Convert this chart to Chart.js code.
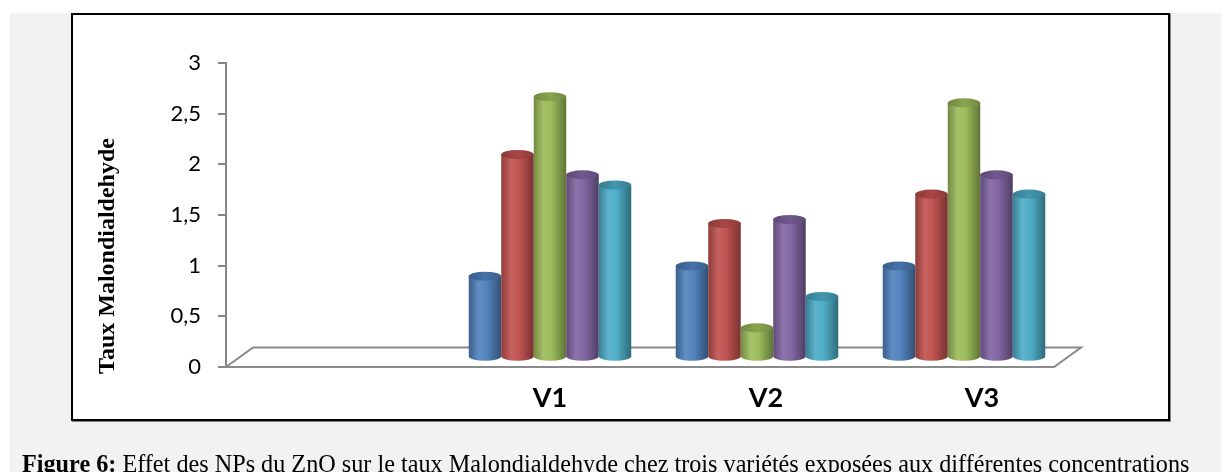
<!DOCTYPE html>
<html>
<head>
<meta charset="utf-8">
<script src="https://cdn.jsdelivr.net/npm/chart.js@4.4.1/dist/chart.umd.min.js"></script>
<style>
  html, body { margin:0; padding:0; background:#ffffff; width:1221px; height:472px; overflow:hidden; }
  #gray { position:absolute; left:10px; top:13px; width:1211px; height:459px; background:#f2f2f2; }
  #box { position:absolute; left:71px; top:13px; width:1095px; height:404px; background:#ffffff;
         border:2px solid #000; box-shadow:1px 1px 0 #808080; }
  #cv { position:absolute; left:0; top:0; }
  #caption { position:absolute; left:22px; top:455px; white-space:nowrap; font-family:"Liberation Serif","Times New Roman",serif;
             font-size:19px; line-height:19px; color:#000; }
</style>
</head>
<body>
<div id="gray"></div>
<div id="box"></div>
<canvas id="cv" width="1221" height="472"></canvas>
<div id="caption"><b>Figure 6:</b> Effet des NPs du ZnO sur le taux Malondialdehyde chez trois variétés exposées aux différentes concentrations</div>
<script>
// ---- data ----
const categories = ['', 'V1', 'V2', 'V3'];
const serie1 = [null, 0.80, 0.90, 0.90];
const serie2 = [null, 2.00, 1.32, 1.61];
const serie3 = [null, 2.57, 0.29, 2.51];
const serie4 = [null, 1.80, 1.36, 1.80];
const serie5 = [null, 1.70, 0.60, 1.61];
const seriesNames = ['Série 1', 'Série 2', 'Série 3', 'Série 4', 'Série 5'];
const seriesColors = ['#4F81BD', '#C0504D', '#9BBB59', '#8064A2', '#4BACC6'];
const yTicks = [0, 0.5, 1, 1.5, 2, 2.5, 3];
const yTitle = 'Taux Malondialdehyde';

// fit caption width
(function(){
  const cap = document.getElementById('caption');
  const target = 1168;
  const w = cap.getBoundingClientRect().width;
  const fs = 19 * target / w;
  cap.style.fontSize = fs.toFixed(2) + 'px';
  cap.style.lineHeight = fs.toFixed(2) + 'px';
  cap.style.top = (472 - fs * 0.84) + 'px';
})();

const DEPTH_X = 27, DEPTH_Y = -19.5;

function shade(hex, f) {
  const n = parseInt(hex.slice(1), 16);
  let r = (n >> 16) & 255, g = (n >> 8) & 255, b = n & 255;
  const c = v => Math.max(0, Math.min(255, Math.round(f >= 1 ? v + (255 - v) * (f - 1) : v * f)));
  return 'rgb(' + c(r) + ',' + c(g) + ',' + c(b) + ')';
}

const cylPlugin = {
  id: 'cyl3d',
  beforeDatasetsDraw(chart) {
    const ctx = chart.ctx, a = chart.chartArea, ys = chart.scales.y;
    const y0 = ys.getPixelForValue(0);
    ctx.save();
    ctx.strokeStyle = '#8a8a8a';
    ctx.lineWidth = 2;
    ctx.beginPath();
    ctx.moveTo(a.left, y0);
    ctx.lineTo(a.left + DEPTH_X, y0 + DEPTH_Y);
    ctx.lineTo(a.right + DEPTH_X, y0 + DEPTH_Y);
    ctx.lineTo(a.right, y0);
    ctx.closePath();
    ctx.stroke();
    ctx.restore();
  },
  afterDatasetsDraw(chart) {
    const ctx = chart.ctx;
    const dx = DEPTH_X / 2, dy = DEPTH_Y / 2;
    ctx.save();
    chart.data.datasets.forEach((ds, di) => {
      const meta = chart.getDatasetMeta(di);
      const col = seriesColors[di];
      meta.data.forEach((el, i) => {
        if (ds.data[i] == null) return;
        const p = el.getProps(['x', 'y', 'base', 'width'], true);
        const cx = p.x + dx, w = p.width, rx = w / 2, ry = w * 0.14;
        const top = p.y + dy, base = p.base + dy;
        const L = cx - rx, R = cx + rx;
        const g = ctx.createLinearGradient(L, 0, R, 0);
        g.addColorStop(0, shade(col, 0.74));
        g.addColorStop(0.3, shade(col, 1.1));
        g.addColorStop(0.55, shade(col, 1.02));
        g.addColorStop(1, shade(col, 0.62));
        ctx.fillStyle = g;
        ctx.beginPath();
        ctx.moveTo(L, top);
        ctx.lineTo(L, base);
        ctx.ellipse(cx, base, rx, ry, 0, Math.PI, 0, true);
        ctx.lineTo(R, top);
        ctx.closePath();
        ctx.fill();
        const gt = ctx.createLinearGradient(L, 0, R, 0);
        gt.addColorStop(0, shade(col, 0.72));
        gt.addColorStop(0.5, shade(col, 0.88));
        gt.addColorStop(1, shade(col, 0.74));
        ctx.fillStyle = gt;
        ctx.beginPath();
        ctx.ellipse(cx, top, rx, ry, 0, 0, Math.PI * 2);
        ctx.fill();
      });
    });
    ctx.restore();
  },
  afterDraw(chart) {
    const ctx = chart.ctx, xs = chart.scales.x;
    ctx.save();
    ctx.fillStyle = '#000';
    ctx.font = 'bold 27px Lato';
    ctx.textAlign = 'center';
    ctx.textBaseline = 'middle';
    categories.forEach((c, i) => {
      if (!c) return;
      const x = xs.getPixelForValue(i) + DEPTH_X / 2 + (i - 1) * 9;
      ctx.fillText(c, x, 398);
    });
    ctx.translate(108, 256);
    ctx.rotate(-Math.PI / 2);
    ctx.font = 'bold 24px "Liberation Serif"';
    ctx.fillText(yTitle, 0, 0);
    ctx.restore();
  }
};

const datasets = [serie1, serie2, serie3, serie4, serie5].map((d, i) => ({
  label: seriesNames[i],
  data: d,
  backgroundColor: 'rgba(0,0,0,0)',
  borderWidth: 0,
  categoryPercentage: 0.785,
  barPercentage: 1.0
}));

new Chart(document.getElementById('cv'), {
  type: 'bar',
  data: { labels: categories, datasets },
  options: {
    responsive: false,
    animation: false,
    layout: { padding: { left: 0, top: 63, right: 167, bottom: 105 } },
    plugins: { legend: { display: false }, tooltip: { enabled: false } },
    scales: {
      x: { display: false },
      y: {
        min: 0, max: 3,
        afterFit(s) { s.width = 226; },
        afterBuildTicks(s) { s.ticks = yTicks.map(v => ({ value: v })); },
        border: { display: true, color: '#868686', width: 2 },
        grid: { drawOnChartArea: false, drawTicks: true, tickLength: 8, color: '#868686', lineWidth: 2 },
        ticks: {
          padding: 17, color: '#000',
          font: { family: 'Lato', size: 22 },
          callback: v => String(v).replace('.', ',')
        }
      }
    }
  },
  plugins: [cylPlugin]
});
</script>
</body>
</html>
